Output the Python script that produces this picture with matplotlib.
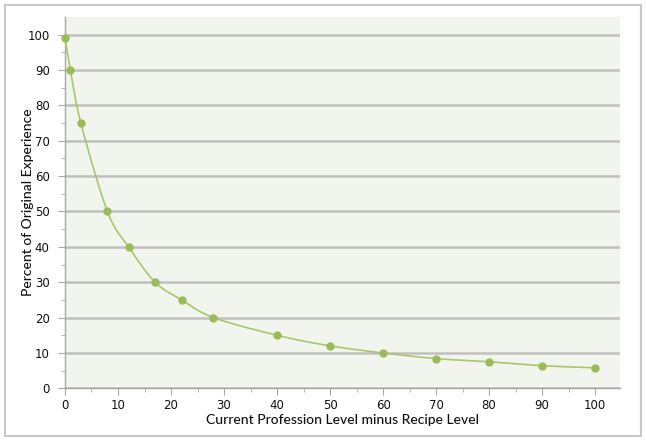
import numpy as np
import matplotlib
matplotlib.use('Agg')
import matplotlib.pyplot as plt
from matplotlib.patches import Rectangle

# level difference vs percent of experience
level_diff = [0, 1, 3, 8, 12, 17, 22, 28, 40, 50, 60, 70, 80, 90, 100]
pct_xp = [99, 90, 75, 50, 40, 30, 25, 20, 15, 12, 10, 8.4, 7.5, 6.4, 5.8]


def smooth(xs, ys, n=30):
  # catmull-rom style curve through the points, like excel's smoothed line
  xs = np.asarray(xs, float)
  ys = np.asarray(ys, float)
  px = np.concatenate([[xs[0]], xs, [xs[-1]]])
  py = np.concatenate([[ys[0]], ys, [ys[-1]]])
  outx, outy = [], []
  t = np.linspace(0, 1, n)
  for i in range(1, len(px) - 2):
    p0, p1, p2, p3 = [np.array([px[j], py[j]]) for j in range(i - 1, i + 3)]
    c1 = p1 + (p2 - p0) / 6.0
    c2 = p2 - (p3 - p1) / 6.0
    seg = ((1 - t) ** 3)[:, None] * p1 + (3 * (1 - t) ** 2 * t)[:, None] * c1 \
        + (3 * (1 - t) * t ** 2)[:, None] * c2 + (t ** 3)[:, None] * p2
    outx.extend(seg[:, 0])
    outy.extend(seg[:, 1])
  return outx, outy


fig = plt.figure(figsize=(6.46, 4.45), dpi=100)
fig.patches.append(Rectangle((5 / 646, 9 / 445), 636 / 646, 431 / 445, transform=fig.transFigure,
                             fill=False, edgecolor='#c8c8c8', linewidth=1.5))

ax = fig.add_axes([0.1006, 0.1274, 0.8592, 0.8344])
ax.set_facecolor('#f2f5ee')

ax.set_xlim(0, 104.7)
ax.set_ylim(0, 105)
ax.set_xticks(range(0, 101, 10))
ax.set_xticks(range(5, 101, 10), minor=True)
ax.set_yticks(range(0, 101, 10))
ax.set_yticks(range(5, 101, 10), minor=True)

ax.grid(axis='y', which='major', color='#c0c0c0', linewidth=1.8)
ax.set_axisbelow(True)

for s in ['top', 'right']:
  ax.spines[s].set_visible(False)
for s in ['left', 'bottom']:
  ax.spines[s].set_color('#a6a6a6')
  ax.spines[s].set_linewidth(1)

ax.tick_params(which='both', direction='out', color='#a6a6a6', labelsize=8.5, labelcolor='#111111')
ax.tick_params(which='major', length=5)
ax.tick_params(which='minor', length=3)
ax.tick_params(axis='x', pad=3)
ax.tick_params(axis='y', pad=6)

sx, sy = smooth(level_diff, pct_xp)
ax.plot(sx, sy, color='#a9c66e', linewidth=1.2, clip_on=False, zorder=3)
ax.plot(level_diff, pct_xp, 'o', color='#9bbb59', markersize=5, clip_on=False, zorder=4)

ax.set_xlabel('Current Profession Level minus Recipe Level', fontsize=10, family='Lato',
              fontweight='medium', color='#111111')
ax.set_ylabel('Percent of Original Experience', fontsize=10, family='Lato',
              fontweight='medium', color='#111111')
ax.xaxis.set_label_coords(0.5, -0.068)
ax.yaxis.set_label_coords(-0.055, 0.5)

plt.savefig('out.png', dpi=100)
